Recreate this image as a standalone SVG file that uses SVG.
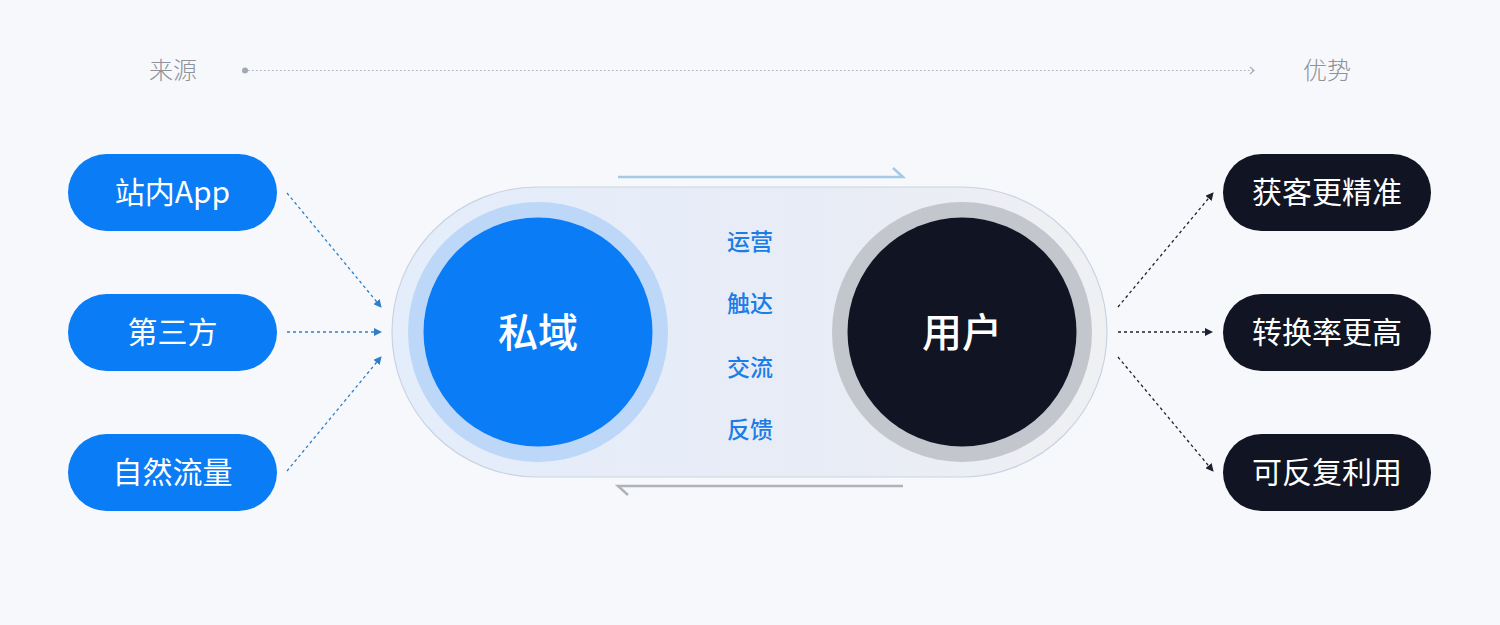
<svg xmlns="http://www.w3.org/2000/svg" width="1500" height="625" viewBox="0 0 1500 625">
<defs>
<style>
.t{font-family:"Noto Sans CJK SC","Noto Sans",sans-serif;text-anchor:middle}
.pill-blue{fill:#0a7cf5}
.pill-dark{fill:#111422}
.pt{font-size:30px;fill:#fff;font-weight:400}
.mid{font-size:23px;fill:#1b7de6;font-weight:500}
.axis{font-size:24px;fill:#8e929b;font-weight:300}
.cl{fill:none;stroke:#2e7fc8;stroke-width:1.3;stroke-dasharray:3 3}
.cr{fill:none;stroke:#1e2230;stroke-width:1.3;stroke-dasharray:3 3}
</style>
<linearGradient id="pg" x1="0" y1="0" x2="1" y2="0">
<stop offset="0" stop-color="#e4edfb"/>
<stop offset="0.6" stop-color="#e8ecf6"/>
<stop offset="1" stop-color="#eff0f2"/>
</linearGradient>
<marker id="ab" viewBox="0 0 8 8" refX="7" refY="4" markerWidth="8" markerHeight="8" markerUnits="userSpaceOnUse" orient="auto">
<path d="M0,0 L8,4 L0,8 Z" fill="#2e7fc8"/>
</marker>
<marker id="ad" viewBox="0 0 8 8" refX="7" refY="4" markerWidth="8" markerHeight="8" markerUnits="userSpaceOnUse" orient="auto">
<path d="M0,0 L8,4 L0,8 Z" fill="#1e2230"/>
</marker>
</defs>
<rect width="1500" height="625" fill="#f6f8fb"/>

<g id="axis">
<text class="t axis" x="173" y="79">来源</text>
<text class="t axis" x="1327" y="79">优势</text>
<circle cx="245" cy="70.5" r="3" fill="#a3a8b4"/>
<line x1="248" y1="70.5" x2="1253" y2="70.5" stroke="#a8adb8" stroke-width="1.2" stroke-dasharray="1.5 2.5"/>
<path d="M1250,67 L1254,70.5 L1250,74" fill="none" stroke="#a8adb8" stroke-width="1.2"/>
</g>

<g id="core">
<rect x="392" y="187" width="715" height="290" rx="145" fill="url(#pg)" stroke="#c9d3e2" stroke-width="1.2"/>
</g>

<g id="flow-arrows">
<path d="M618,177 L903,177 L893,168" fill="none" stroke="#a6c9e8" stroke-width="2.5"/>
<path d="M903,486 L618,486 L628,495" fill="none" stroke="#b0b3b9" stroke-width="2.5"/>
</g>

<g id="node-siyu">
<circle cx="538" cy="332" r="130" fill="#bcd7f8"/>
<circle cx="538" cy="332" r="114.5" fill="#0a7cf5"/>
<text class="t" x="538" y="347" font-size="40" fill="#fff" font-weight="500">私域</text>
</g>

<g id="node-user">
<circle cx="962" cy="332" r="130" fill="#c3c6cd"/>
<circle cx="962" cy="332" r="114.5" fill="#111422"/>
<text class="t" x="962" y="347" font-size="40" fill="#fff" font-weight="500">用户</text>
</g>

<g id="actions">
<text class="t mid" x="750" y="250">运营</text>
<text class="t mid" x="750" y="312">触达</text>
<text class="t mid" x="750" y="376">交流</text>
<text class="t mid" x="750" y="438">反馈</text>
</g>

<g id="src-app"><rect class="pill-blue" x="68" y="154" width="209" height="77" rx="38.5"/><text class="t pt" x="172.5" y="203">站内App</text></g>
<g id="src-third"><rect class="pill-blue" x="68" y="294" width="209" height="77" rx="38.5"/><text class="t pt" x="172.5" y="343">第三方</text></g>
<g id="src-natural"><rect class="pill-blue" x="68" y="434" width="209" height="77" rx="38.5"/><text class="t pt" x="172.5" y="483">自然流量</text></g>

<g id="adv-precise"><rect class="pill-dark" x="1223" y="154" width="208" height="77" rx="38.5"/><text class="t pt" x="1327" y="203">获客更精准</text></g>
<g id="adv-conv"><rect class="pill-dark" x="1223" y="294" width="208" height="77" rx="38.5"/><text class="t pt" x="1327" y="343">转换率更高</text></g>
<g id="adv-reuse"><rect class="pill-dark" x="1223" y="434" width="208" height="77" rx="38.5"/><text class="t pt" x="1327" y="483">可反复利用</text></g>

<g id="connectors">
<line class="cl" x1="287" y1="193" x2="381" y2="307" marker-end="url(#ab)"/>
<line class="cl" x1="287" y1="332" x2="381" y2="332" marker-end="url(#ab)"/>
<line class="cl" x1="287" y1="471" x2="381" y2="357" marker-end="url(#ab)"/>
<line class="cr" x1="1118" y1="307" x2="1213" y2="193" marker-end="url(#ad)"/>
<line class="cr" x1="1118" y1="332" x2="1212" y2="332" marker-end="url(#ad)"/>
<line class="cr" x1="1118" y1="357" x2="1213" y2="471" marker-end="url(#ad)"/>
</g>
</svg>
